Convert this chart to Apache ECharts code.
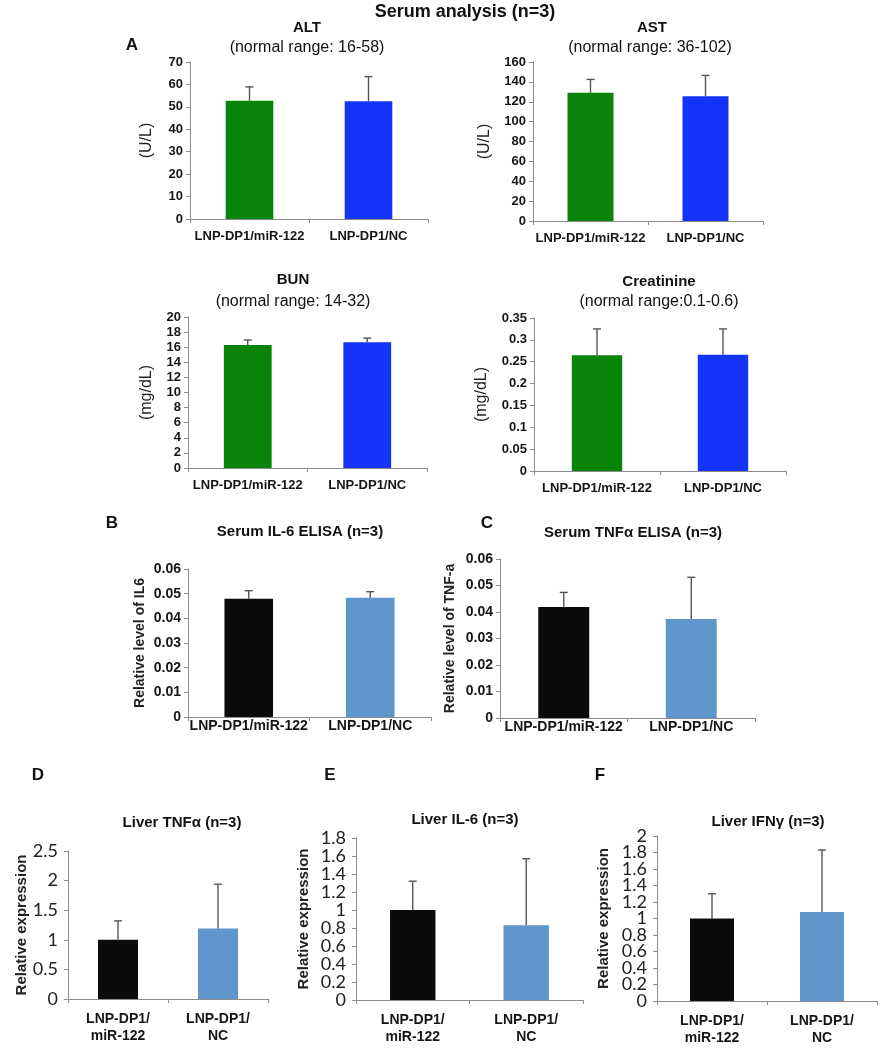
<!DOCTYPE html>
<html>
<head>
<meta charset="utf-8">
<script src="https://cdn.jsdelivr.net/npm/echarts@6/dist/echarts.min.js"></script>
<style>
html,body{margin:0;padding:0;background:#fff;}
#chart{width:888px;height:1050px;}
</style>
</head>
<body>
<div id="chart"></div>
<script>
// ---------- data ----------
const categories = ['LNP-DP1/miR-122', 'LNP-DP1/NC'];
const categoriesWrapped = ['LNP-DP1/\nmiR-122', 'LNP-DP1/\nNC'];

const altMean = [52.7, 52.5];
const altSd = [6.2, 11.0];
const astMean = [129, 125.5];
const astSd = [13.5, 21];
const bunMean = [16.3, 16.65];
const bunSd = [0.65, 0.55];
const creatMean = [0.265, 0.266];
const creatSd = [0.06, 0.059];
const serumIl6Mean = [0.0479, 0.0483];
const serumIl6Sd = [0.0033, 0.0025];
const serumTnfMean = [0.0419, 0.0374];
const serumTnfSd = [0.0055, 0.0157];
const liverTnfMean = [1.0, 1.19];
const liverTnfSd = [0.32, 0.75];
const liverIl6Mean = [1.0, 0.83];
const liverIl6Sd = [0.32, 0.74];
const liverIfnMean = [1.0, 1.08];
const liverIfnSd = [0.30, 0.75];

const altTicks = {min: 0, max: 70, interval: 10};
const astTicks = {min: 0, max: 160, interval: 20};
const bunTicks = {min: 0, max: 20, interval: 2};
const creatTicks = {min: 0, max: 0.35, interval: 0.05};
const serumTicks = {min: 0, max: 0.06, interval: 0.01};
const liverTnfTicks = {min: 0, max: 2.5, interval: 0.5};
const liverIl6Ticks = {min: 0, max: 1.8, interval: 0.2};
const liverIfnTicks = {min: 0, max: 2, interval: 0.2};

// ---------- styles / layout ----------
const GREEN = '#088508', BLUE = '#1434fa', BLACK = '#0b0b0b', LIGHTBLUE = '#6196cc';
const SANS = '"Liberation Sans", Arial, sans-serif';
const HUM = 'Lato, "Liberation Sans", sans-serif';

const panels = [
  {mean: altMean, sd: altSd, ticks: altTicks, colors: [GREEN, BLUE], cats: categories, yName: '(U/L)',
   grid: {left: 190, top: 62, width: 238, height: 157}, nameGap: 35, style: 'top'},
  {mean: astMean, sd: astSd, ticks: astTicks, colors: [GREEN, BLUE], cats: categories, yName: '(U/L)',
   grid: {left: 533, top: 62, width: 230, height: 159}, nameGap: 40, style: 'top'},
  {mean: bunMean, sd: bunSd, ticks: bunTicks, colors: [GREEN, BLUE], cats: categories, yName: '(mg/dL)',
   grid: {left: 188, top: 317, width: 239, height: 151}, nameGap: 33, style: 'top'},
  {mean: creatMean, sd: creatSd, ticks: creatTicks, colors: [GREEN, BLUE], cats: categories, yName: '(mg/dL)',
   grid: {left: 534, top: 318, width: 252, height: 153}, nameGap: 44, style: 'top'},
  {mean: serumIl6Mean, sd: serumIl6Sd, ticks: serumTicks, colors: [BLACK, LIGHTBLUE], cats: categories, yName: 'Relative level of IL6',
   grid: {left: 188, top: 569, width: 243, height: 148}, nameGap: 41, style: 'mid'},
  {mean: serumTnfMean, sd: serumTnfSd, ticks: serumTicks, colors: [BLACK, LIGHTBLUE], cats: categories, yName: 'Relative level of TNF-a',
   grid: {left: 500, top: 559, width: 255, height: 159}, nameGap: 43, style: 'mid'},
  {mean: liverTnfMean, sd: liverTnfSd, ticks: liverTnfTicks, colors: [BLACK, LIGHTBLUE], cats: categoriesWrapped, yName: 'Relative expression',
   grid: {left: 68, top: 851, width: 200, height: 148}, nameGap: 39, style: 'bot'},
  {mean: liverIl6Mean, sd: liverIl6Sd, ticks: liverIl6Ticks, colors: [BLACK, LIGHTBLUE], cats: categoriesWrapped, yName: 'Relative expression',
   grid: {left: 356, top: 838, width: 227, height: 162}, nameGap: 45, style: 'bot'},
  {mean: liverIfnMean, sd: liverIfnSd, ticks: liverIfnTicks, colors: [BLACK, LIGHTBLUE], cats: categoriesWrapped, yName: 'Relative expression',
   grid: {left: 657, top: 836, width: 220, height: 165}, nameGap: 46, style: 'bot', splitLabels: true}
];

const textStyles = {
  top: {tick: {fontFamily: SANS, fontWeight: 'bold', fontSize: 13, color: '#151515'},
        xlab: {fontFamily: SANS, fontWeight: 'bold', fontSize: 13, color: '#151515', margin: 11},
        name: {fontFamily: SANS, fontWeight: 'normal', fontSize: 16, color: '#222'}, yMargin: 7},
  mid: {tick: {fontFamily: SANS, fontWeight: 'bold', fontSize: 14, color: '#151515'},
        xlab: {fontFamily: SANS, fontWeight: 'bold', fontSize: 14, color: '#151515', margin: 2},
        name: {fontFamily: SANS, fontWeight: 'bold', fontSize: 14, color: '#222'}, yMargin: 7},
  bot: {tick: {fontFamily: HUM, fontWeight: 'normal', fontSize: 18, color: '#222'},
        xlab: {fontFamily: SANS, fontWeight: 'bold', fontSize: 14, color: '#151515', lineHeight: 17, margin: 12},
        name: {fontFamily: SANS, fontWeight: 'bold', fontSize: 15, color: '#222'}, yMargin: 10}
};

const texts = [
  {t: 'Serum analysis (n=3)', x: 465, y: 12, f: 'bold 18px ' + SANS},
  {t: 'A', x: 132, y: 45, f: 'bold 17px ' + SANS},
  {t: 'ALT', x: 307, y: 28, f: 'bold 15px ' + SANS},
  {t: '(normal range: 16-58)', x: 307, y: 48, f: '16px ' + SANS},
  {t: 'AST', x: 652, y: 28, f: 'bold 15px ' + SANS},
  {t: '(normal range: 36-102)', x: 650, y: 48, f: '16px ' + SANS},
  {t: 'BUN', x: 293, y: 280, f: 'bold 15px ' + SANS},
  {t: '(normal range: 14-32)', x: 293, y: 302, f: '16px ' + SANS},
  {t: 'Creatinine', x: 659, y: 282, f: 'bold 15px ' + SANS},
  {t: '(normal range:0.1-0.6)', x: 659, y: 302, f: '16px ' + SANS},
  {t: 'B', x: 112, y: 523, f: 'bold 17px ' + SANS},
  {t: 'Serum IL-6 ELISA (n=3)', x: 300, y: 532, f: 'bold 15px ' + SANS},
  {t: 'C', x: 487, y: 523, f: 'bold 17px ' + SANS},
  {t: 'Serum TNF\u03b1 ELISA (n=3)', x: 633, y: 533, f: 'bold 15px ' + SANS},
  {t: 'D', x: 38, y: 775, f: 'bold 17px ' + SANS},
  {t: 'Liver TNF\u03b1 (n=3)', x: 182, y: 823, f: 'bold 15px ' + SANS},
  {t: 'E', x: 330, y: 775, f: 'bold 17px ' + SANS},
  {t: 'Liver IL-6 (n=3)', x: 465, y: 820, f: 'bold 15px ' + SANS},
  {t: 'F', x: 600, y: 775, f: 'bold 17px ' + SANS},
  {t: 'Liver IFN\u03b3 (n=3)', x: 768, y: 822, f: 'bold 15px ' + SANS}
];

function renderErr(params, api) {
  const x = api.value(0);
  const p0 = api.coord([x, api.value(1)]);
  const p1 = api.coord([x, api.value(2)]);
  const st = {stroke: '#555', lineWidth: 1.4};
  return {type: 'group', children: [
    {type: 'line', shape: {x1: p0[0], y1: p0[1], x2: p1[0], y2: p1[1]}, style: st},
    {type: 'line', shape: {x1: p1[0] - 4, y1: p1[1], x2: p1[0] + 4, y2: p1[1]}, style: st}
  ]};
}

const AXIS_COLOR = '#8c8c8c';
const grids = [], xAxes = [], yAxes = [], series = [];
panels.forEach((p, i) => {
  const ts = textStyles[p.style];
  grids.push(Object.assign({}, p.grid));
  xAxes.push({
    type: 'category', gridIndex: i, data: p.cats,
    axisLine: {lineStyle: {color: AXIS_COLOR, width: 1}},
    axisTick: {show: true, length: 4, lineStyle: {color: AXIS_COLOR}},
    axisLabel: Object.assign({interval: 0}, ts.xlab)
  });
  const yIndex = yAxes.length;
  const step = p.splitLabels ? p.ticks.interval * 2 : p.ticks.interval;
  yAxes.push({
    type: 'value', gridIndex: i, position: 'left', offset: 0,
    min: p.ticks.min, max: p.ticks.max, interval: step,
    splitLine: {show: false},
    axisLine: {show: true, lineStyle: {color: AXIS_COLOR, width: 1}},
    axisTick: {show: true, length: 4, lineStyle: {color: AXIS_COLOR}},
    axisLabel: Object.assign({margin: ts.yMargin, showMinLabel: true, showMaxLabel: true}, ts.tick),
    name: p.yName, nameLocation: 'middle', nameGap: p.nameGap, nameRotate: 90,
    nameTextStyle: ts.name
  });
  if (p.splitLabels) {
    // second axis on the same scale carries the in-between tick labels
    const iv = p.ticks.interval;
    yAxes.push({
      type: 'value', gridIndex: i, position: 'left', offset: 0,
      min: p.ticks.min, max: p.ticks.max, interval: iv,
      splitLine: {show: false},
      axisLine: {show: false},
      axisTick: {show: true, length: 4, lineStyle: {color: AXIS_COLOR}},
      axisLabel: Object.assign({margin: ts.yMargin, showMinLabel: false, showMaxLabel: false,
        formatter: v => (Math.round(v / iv) % 2 === 1 ? String(+v.toFixed(4)) : '')}, ts.tick)
    });
  }
  series.push({
    type: 'bar', xAxisIndex: i, yAxisIndex: yIndex, barWidth: '40%',
    data: p.mean.map((v, k) => ({value: v, itemStyle: {color: p.colors[k]}})),
    silent: true, animation: false
  });
  series.push({
    type: 'custom', xAxisIndex: i, yAxisIndex: yIndex, renderItem: renderErr,
    encode: {x: 0, y: [1, 2]},
    data: p.mean.map((v, k) => [k, v, v + p.sd[k]]),
    silent: true, animation: false, z: 5
  });
});

const chart = echarts.init(document.getElementById('chart'), null, {renderer: 'canvas'});
chart.setOption({
  backgroundColor: '#ffffff',
  animation: false,
  grid: grids, xAxis: xAxes, yAxis: yAxes, series: series,
  graphic: texts.map(o => ({
    type: 'text', x: o.x, y: o.y, silent: true,
    style: {text: o.t, font: o.f, fill: '#111', textAlign: 'center', textVerticalAlign: 'middle'}
  }))
});
</script>
</body>
</html>
